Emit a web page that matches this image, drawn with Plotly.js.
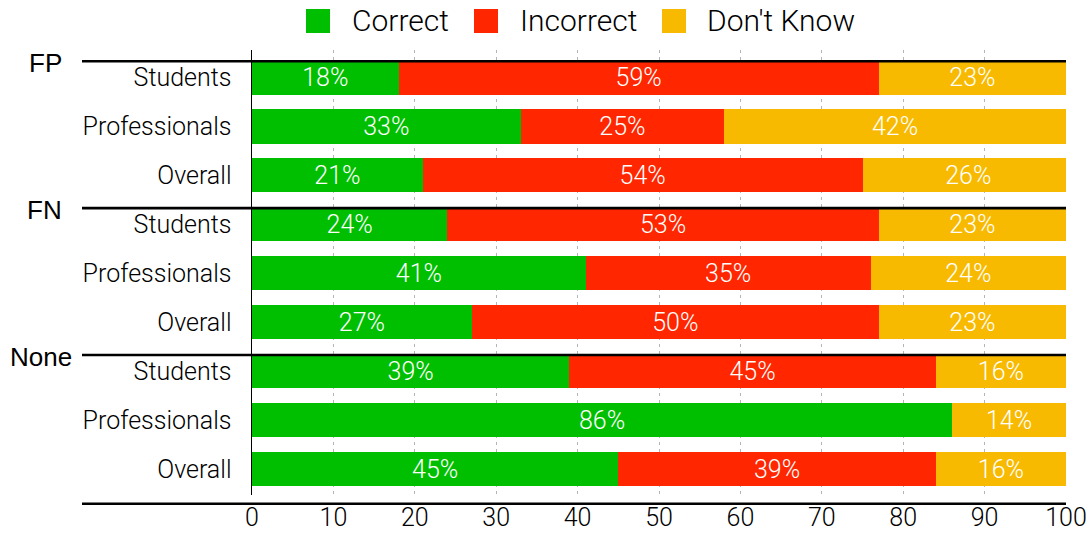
<!DOCTYPE html>
<html>
<head>
<meta charset="utf-8">
<script src="https://cdn.plot.ly/plotly-3.0.1.min.js"></script>
<style>
  html, body { margin: 0; padding: 0; background: #ffffff; }
  #chart { width: 1090px; height: 533px; }
</style>
</head>
<body>
<div id="chart"></div>
<script>
// Answers per respondent group, in percent
const groups = ['FP', 'FN', 'None'];
const categories = ['Students', 'Professionals', 'Overall',
                    'Students', 'Professionals', 'Overall',
                    'Students', 'Professionals', 'Overall'];
const correct   = [18, 33, 21, 24, 41, 27, 39, 86, 45];
const incorrect = [59, 25, 54, 53, 35, 50, 45, 0, 39];
const dontKnow  = [23, 42, 26, 23, 24, 23, 16, 14, 16];
const seriesNames = ['Correct', 'Incorrect', "Don't Know"];
const xTicks = [0, 10, 20, 30, 40, 50, 60, 70, 80, 90, 100];

// styling
const colors = ['#00BF00', '#FF2600', '#F8BA00'];
const lightFont = 'Roboto, "Liberation Sans", sans-serif';
const rowsPerGroup = 3;

const W = 1090, H = 533;
const margin = { l: 252, r: 24, t: 50, b: 38 };
const plotW = W - margin.l - margin.r;
const plotH = H - margin.t - margin.b;
const px2paperX = px => (px - margin.l) / plotW;
const px2paperY = py => (H - margin.b - py) / plotH;

const rows = categories.map((_, i) => i);
const seriesValues = [correct, incorrect, dontKnow];

const traces = seriesValues.map((vals, k) => ({
  type: 'bar',
  orientation: 'h',
  name: seriesNames[k],
  y: rows,
  x: vals,
  width: 0.7,
  marker: { color: colors[k], line: { width: 0 } },
  text: vals.map(v => (v > 0 ? v + '%' : '')),
  textposition: 'inside',
  insidetextanchor: 'middle',
  textangle: 0,
  constraintext: 'none',
  textfont: { family: lightFont, weight: 300, size: 25, color: '#ffffff' },
  hoverinfo: 'skip',
  showlegend: false
}));

const shapes = [];
const annotations = [];

// group separators with their labels
const groupLabelRight = [64, 64, 74];
groups.forEach((g, gi) => {
  const yLine = gi * rowsPerGroup - 0.33;
  shapes.push({
    type: 'line', layer: 'above',
    xref: 'paper', x0: px2paperX(82), x1: 1,
    yref: 'y', y0: yLine, y1: yLine,
    line: { color: '#000000', width: 2.6 }
  });
  annotations.push({
    xref: 'paper', x: px2paperX(groupLabelRight[gi]), xanchor: 'right',
    yref: 'y', y: yLine + 0.04, yanchor: 'middle',
    text: g, showarrow: false,
    font: { family: '"Liberation Sans", Arial, sans-serif', size: 26, color: '#000000' }
  });
});

// closing rule under the last group
shapes.push({
  type: 'line', layer: 'above',
  xref: 'paper', x0: px2paperX(82), x1: 1,
  yref: 'paper', y0: px2paperY(503.7), y1: px2paperY(503.7),
  line: { color: '#000000', width: 2.6 }
});

// legend: swatches and names across the top
const legendSwatchX = [306, 474, 662];
const legendTextX = [350, 518, 705];
seriesNames.forEach((name, k) => {
  shapes.push({
    type: 'rect', layer: 'above',
    xref: 'paper', x0: px2paperX(legendSwatchX[k]), x1: px2paperX(legendSwatchX[k] + 24),
    yref: 'paper', y0: px2paperY(33), y1: px2paperY(9),
    fillcolor: colors[k], line: { width: 0 }
  });
  annotations.push({
    xref: 'paper', x: px2paperX(legendTextX[k]), xanchor: 'left',
    yref: 'paper', y: px2paperY(21), yanchor: 'middle',
    text: name, showarrow: false,
    font: { family: lightFont, weight: 300, size: 30, color: '#000000' }
  });
});

const layout = {
  width: W, height: H,
  margin: margin,
  paper_bgcolor: '#ffffff',
  plot_bgcolor: '#ffffff',
  barmode: 'stack',
  bargap: 0.3,
  showlegend: false,
  xaxis: {
    range: [0, 100],
    tickvals: xTicks,
    ticktext: xTicks.map(String),
    ticks: '',
    ticklabelstandoff: 5,
    showgrid: true,
    gridcolor: '#b5b5b5',
    gridwidth: 1,
    griddash: '3px,4px',
    zeroline: false,
    showline: false,
    tickfont: { family: lightFont, weight: 300, size: 25, color: '#000000' },
    fixedrange: true
  },
  yaxis: {
    range: [8.53, -0.561],
    tickvals: rows,
    ticktext: categories,
    ticks: '',
    ticklabelstandoff: 14,
    showgrid: false,
    zeroline: false,
    showline: true,
    linecolor: '#000000',
    linewidth: 1.5,
    tickfont: { family: lightFont, weight: 300, size: 25, color: '#000000' },
    fixedrange: true
  },
  shapes: shapes,
  annotations: annotations
};

Plotly.newPlot('chart', traces, layout, { displayModeBar: false, staticPlot: true });
</script>
</body>
</html>
